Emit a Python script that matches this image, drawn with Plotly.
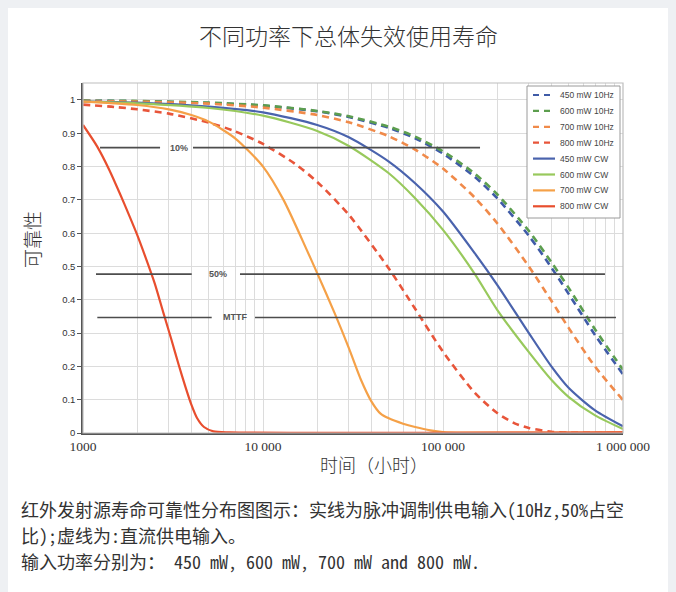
import math
import plotly.graph_objects as go

# ---------------- data ----------------
title_text = "不同功率下总体失效使用寿命"
x_title = "时间（小时）"
y_title = "可靠性"

series_names = ["450 mW 10Hz", "600 mW 10Hz", "700 mW 10Hz", "800 mW 10Hz",
                "450 mW CW", "600 mW CW", "700 mW CW", "800 mW CW"]
series_colors = ["#3f5ba7", "#5c9e4e", "#f08a4a", "#e8553a",
                 "#4a63ad", "#98c95c", "#f5a148", "#e84e2e"]
series_dashed = [True, True, True, True, False, False, False, False]

t_450_10hz = [1000, 2000, 5000, 10000, 20000, 30000, 50000, 70000, 100000, 150000, 200000, 300000, 400000, 500000, 700000, 1000000]
r_450_10hz = [0.998, 0.996, 0.991, 0.983, 0.966, 0.949, 0.916, 0.885, 0.839, 0.769, 0.705, 0.592, 0.497, 0.417, 0.294, 0.176]

t_600_10hz = [1000, 2000, 5000, 10000, 20000, 30000, 50000, 70000, 100000, 150000, 200000, 300000, 400000, 500000, 700000, 1000000]
r_600_10hz = [0.998, 0.997, 0.992, 0.984, 0.967, 0.951, 0.920, 0.890, 0.846, 0.779, 0.717, 0.607, 0.513, 0.435, 0.311, 0.190]

t_700_10hz = [1000, 2000, 5000, 10000, 20000, 30000, 50000, 70000, 100000, 150000, 200000, 300000, 400000, 500000, 700000, 1000000]
r_700_10hz = [0.997, 0.995, 0.989, 0.977, 0.955, 0.933, 0.891, 0.851, 0.794, 0.707, 0.630, 0.500, 0.397, 0.315, 0.199, 0.099]

t_800_10hz = [1000, 1500, 2000, 3000, 5000, 7000, 10000, 15000, 20000, 30000, 50000, 70000, 100000, 150000, 200000, 250000, 300000, 400000, 500000, 1000000]
r_800_10hz = [0.986, 0.979, 0.972, 0.959, 0.932, 0.906, 0.868, 0.809, 0.754, 0.655, 0.494, 0.373, 0.244, 0.121, 0.060, 0.029, 0.015, 0.004, 0.001, 0.0]

t_450_cw = [1000, 2000, 5000, 10000, 20000, 30000, 50000, 70000, 100000, 150000, 200000, 300000, 400000, 500000, 700000, 1000000]
r_450_cw = [0.996, 0.992, 0.980, 0.963, 0.925, 0.888, 0.815, 0.750, 0.665, 0.540, 0.445, 0.300, 0.200, 0.135, 0.068, 0.020]

t_600_cw = [1000, 2000, 5000, 10000, 20000, 30000, 50000, 70000, 100000, 150000, 200000, 300000, 400000, 500000, 700000, 1000000]
r_600_cw = [0.995, 0.990, 0.976, 0.953, 0.907, 0.862, 0.780, 0.705, 0.610, 0.478, 0.370, 0.243, 0.160, 0.108, 0.053, 0.012]

t_700_cw = [1000, 1500, 2000, 3000, 4000, 5000, 7000, 10000, 13000, 17500, 20000, 25000, 30000, 35000, 40000, 45000, 50000, 60000, 70000, 85000, 100000, 1000000]
r_700_cw = [0.995, 0.990, 0.985, 0.972, 0.955, 0.935, 0.885, 0.800, 0.700, 0.550, 0.480, 0.360, 0.255, 0.160, 0.095, 0.058, 0.044, 0.028, 0.018, 0.008, 0.003, 0.002]

t_800_cw = [1000, 1200, 1400, 1600, 1800, 2000, 2200, 2500, 2800, 3100, 3400, 3700, 4000, 4300, 4700, 5300, 6500, 1000000]
r_800_cw = [0.925, 0.860, 0.790, 0.720, 0.655, 0.595, 0.535, 0.450, 0.360, 0.280, 0.205, 0.140, 0.085, 0.045, 0.018, 0.005, 0.002, 0.002]

series_t = [t_450_10hz, t_600_10hz, t_700_10hz, t_800_10hz, t_450_cw, t_600_cw, t_700_cw, t_800_cw]
series_r = [r_450_10hz, r_600_10hz, r_700_10hz, r_800_10hz, r_450_cw, r_600_cw, r_700_cw, r_800_cw]

# reference lines (10%, 50%, MTTF)
ref_labels = ["10%", "50%", "MTTF"]
ref_level = [0.857, 0.477, 0.347]
ref_left_seg = [[1243, 2680], [1181, 4018], [1201, 5188]]
ref_right_seg = [[4085, 160600], [7450, 794000], [9030, 914000]]
ref_label_x = [3415, 5623, 6985]

x_decades = [1000, 10000, 100000, 1000000]
x_tick_labels = ["1000", "10 000", "100 000", "1 000 000"]
y_ticks = [0, 0.1, 0.2, 0.3, 0.4, 0.5, 0.6, 0.7, 0.8, 0.9, 1.0]
y_tick_labels = ["0", "0.1", "0.2", "0.3", "0.4", "0.5", "0.6", "0.7", "0.8", "0.9", "1"]

caption_lines = [
    "红外发射源寿命可靠性分布图图示：实线为脉冲调制供电输入(10Hz,50%占空",
    "比);虚线为:直流供电输入。",
    "输入功率分别为： 450 mW, 600 mW, 700 mW and 800 mW.",
]

# ---------------- layout geometry (page pixels; the figure sits at 8,8 in the page) ----------------
OFF = 8
W, H = 676 - OFF, 592 - OFF
L, R, T, B = 83 - OFF, 676 - 623, 83 - OFF, 592 - 433
PW, PH = W - L - R, H - T - B


def px(x):
    return (x - OFF - L) / PW


def py(y):
    return (H - B - (y - OFF)) / PH


fig = go.Figure()

for name, t, r, c, d in zip(series_names, series_t, series_r, series_colors, series_dashed):
    fig.add_trace(go.Scatter(
        x=t, y=r, mode="lines", name=name, showlegend=False,
        line=dict(color=c, width=2.6 if d else 2.2, dash="7px,5px" if d else "solid",
                  shape="spline", smoothing=0.7),
        hoverinfo="skip"))

for lab, lv, ls, rs, lx in zip(ref_labels, ref_level, ref_left_seg, ref_right_seg, ref_label_x):
    for seg in (ls, rs):
        fig.add_trace(go.Scatter(x=seg, y=[lv, lv], mode="lines", showlegend=False,
                                 line=dict(color="#4d4d4d", width=1.6), hoverinfo="skip"))
    fig.add_annotation(x=math.log10(lx), y=lv, xref="x", yref="y", text="<b>" + lab + "</b>", showarrow=False,
                       font=dict(family="Liberation Sans, Arial", size=9, color="#555555"),
                       xanchor="center", yanchor="middle")

x_tickvals, x_ticktext = [], []
for dec, lab in zip(x_decades, x_tick_labels):
    for m in range(1, 10):
        v = dec * m
        if v > x_decades[-1]:
            break
        x_tickvals.append(v)
        x_ticktext.append(lab if m == 1 else "")

fig.update_xaxes(type="log", range=[3, 6], tickmode="array", tickvals=x_tickvals, ticktext=x_ticktext,
                 showgrid=True, gridcolor="#dcdcdc", gridwidth=1,
                 showline=True, linecolor="#555555", linewidth=1.5, ticks="", zeroline=False,
                 tickfont=dict(family="Liberation Serif, DejaVu Serif", size=13.5, color="#333333"))
fig.update_yaxes(range=[0, 1.051], tickmode="array", tickvals=y_ticks, ticktext=y_tick_labels,
                 showgrid=True, gridcolor="#dcdcdc", gridwidth=1, zeroline=False,
                 showline=True, linecolor="#555555", linewidth=1.5, ticks="outside", ticklen=4,
                 tickcolor="#555555", tickwidth=1,
                 tickfont=dict(family="Liberation Sans, Arial", size=9.5, color="#333333"))

shapes = []
shapes.append(dict(type="rect", xref="paper", yref="paper", x0=0, x1=1, y0=0, y1=1,
                   line=dict(color="#bdbdbd", width=1.2), fillcolor="rgba(0,0,0,0)", layer="above"))

LX0, LX1, LY0, LY1 = 527, 620, 86, 218
shapes.append(dict(type="rect", xref="paper", yref="paper", x0=px(LX0), x1=px(LX1), y0=py(LY1), y1=py(LY0),
                   fillcolor="white", line=dict(color="#9a9a9a", width=1), layer="above"))
annotations = []
for i, (name, c, d) in enumerate(zip(series_names, series_colors, series_dashed)):
    yy = 95 + i * 15.9
    shapes.append(dict(type="line", xref="paper", yref="paper", x0=px(533), x1=px(555), y0=py(yy), y1=py(yy),
                       line=dict(color=c, width=2.2, dash="6px,5px" if d else "solid"), layer="above"))
    annotations.append(dict(xref="paper", yref="paper", x=px(558), y=py(yy), text=name, showarrow=False,
                            xanchor="left", yanchor="middle",
                            font=dict(family="Liberation Sans, Arial", size=8.5, color="#444444")))

cjk_font = "Noto Sans CJK SC"
annotations.append(dict(xref="paper", yref="paper", x=px(374), y=py(464), text=x_title, showarrow=False,
                        xanchor="center", yanchor="middle",
                        font=dict(family=cjk_font, size=18, color="#333333", weight=300)))
annotations.append(dict(xref="paper", yref="paper", x=px(31), y=py(240), text=y_title, showarrow=False,
                        textangle=-90, xanchor="center", yanchor="middle",
                        font=dict(family=cjk_font, size=19, color="#333333", weight=300)))
annotations.append(dict(xref="paper", yref="paper", x=px(348), y=py(35), text=title_text, showarrow=False,
                        xanchor="center", yanchor="middle",
                        font=dict(family=cjk_font, size=23, color="#333333", weight=300)))
# caption lines, each its own text
for i, line in enumerate(caption_lines):
    annotations.append(dict(xref="paper", yref="paper", x=px(19), y=py(509 + i * 26.2), text=line,
                            showarrow=False, xanchor="left", yanchor="middle", align="left",
                            font=dict(family="Noto Sans Mono CJK SC, Noto Sans CJK SC", size=18,
                                      color="#333333", weight=300)))

for a in annotations:
    fig.add_annotation(**a)

fig.update_layout(width=W, height=H, margin=dict(l=L, r=R, t=T, b=B, autoexpand=False),
                  paper_bgcolor="white", plot_bgcolor="white", shapes=shapes, showlegend=False)

fig.write_html("out.html", post_script="document.body.style.background='#eef0f3';")
